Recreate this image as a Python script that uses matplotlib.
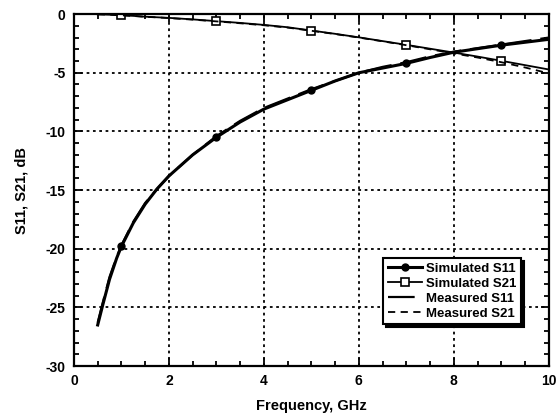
import matplotlib
matplotlib.use("Agg")
import matplotlib.pyplot as plt
from matplotlib.ticker import MultipleLocator

plt.rcParams["font.family"] = ["Liberation Sans", "DejaVu Sans"]
plt.rcParams["axes.unicode_minus"] = False

freq = [0.5, 0.6, 0.75, 0.9, 1, 1.25, 1.5, 1.75, 2, 2.5, 3, 3.5, 4, 4.5, 5, 5.5, 6, 6.5, 7,
        7.5, 8, 8.5, 9, 9.5, 10]
sim_s11 = [-26.5, -24.9, -22.6, -20.8, -19.8, -17.8, -16.2, -14.9, -13.8, -12.0, -10.5, -9.2,
           -8.1, -7.3, -6.5, -5.7, -5.0, -4.6, -4.2, -3.7, -3.25, -2.95, -2.65, -2.4, -2.15]
sim_s21 = [-0.02, -0.03, -0.05, -0.08, -0.1, -0.15, -0.22, -0.27, -0.32, -0.45, -0.6, -0.75,
           -0.92, -1.12, -1.4, -1.68, -1.98, -2.3, -2.62, -2.95, -3.28, -3.62, -3.98, -4.35,
           -4.72]
meas_s11 = [-26.3, -24.7, -22.4, -20.7, -19.7, -17.7, -16.1, -14.9, -13.8, -12.0, -10.4, -9.1,
            -8.0, -7.2, -6.4, -5.7, -5.0, -4.5, -4.1, -3.6, -3.2, -2.9, -2.6, -2.3, -2.0]
meas_s21 = [-0.02, -0.03, -0.05, -0.08, -0.1, -0.16, -0.23, -0.28, -0.34, -0.47, -0.62, -0.78,
            -0.95, -1.15, -1.42, -1.7, -2.0, -2.32, -2.65, -3.0, -3.35, -3.7, -4.1, -4.55,
            -5.05]
marker_idx = [4, 10, 14, 18, 22]

fig = plt.figure(figsize=(5.56, 4.15), dpi=100)
ax = fig.add_axes([0.133, 0.118, 0.854, 0.848])

ax.plot(freq, sim_s11, color="black", lw=2.2, marker="o", ms=5,
        mfc="black", markevery=marker_idx, label="Simulated S11")
ax.plot(freq, sim_s21, color="black", lw=1.3, marker="s", ms=6,
        mfc="white", mew=1.2, markevery=marker_idx, label="Simulated S21")
ax.plot(freq, meas_s11, color="black", lw=1.6, dashes=(12, 4), label="Measured S11")
ax.plot(freq, meas_s21, color="black", lw=1.3, dashes=(4, 3), label="Measured S21")

ax.set_xlim(0, 10)
ax.set_ylim(-30, 0)
ax.xaxis.set_major_locator(MultipleLocator(2))
ax.xaxis.set_minor_locator(MultipleLocator(0.5))
ax.yaxis.set_major_locator(MultipleLocator(5))
ax.yaxis.set_minor_locator(MultipleLocator(1))
ax.tick_params(which="both", direction="in", top=True, right=True, width=1.3)
ax.tick_params(which="major", length=6, labelsize=10, pad=6)
ax.tick_params(which="minor", length=3.5)
for lab in ax.get_xticklabels() + ax.get_yticklabels():
    lab.set_fontweight("bold")
for sp in ax.spines.values():
    sp.set_linewidth(1.6)

ax.grid(True, which="major", color="black", linestyle=(0, (1.5, 2)), linewidth=1.3)

ax.set_xlabel("Frequency, GHz", fontsize=10.5, fontweight="bold", labelpad=8)
ax.set_ylabel("S11, S21, dB", fontsize=10.5, fontweight="bold", labelpad=12)

leg = ax.legend(loc="lower right", bbox_to_anchor=(0.955, 0.1), fancybox=False,
                shadow={"color": "black", "alpha": 1}, framealpha=1,
                edgecolor="black", prop={"size": 9.5, "weight": "bold"},
                handlelength=2.6, handletextpad=0.3, labelspacing=0.2, borderpad=0.35)
leg.get_frame().set_linewidth(1.5)

fig.savefig("out.png", dpi=100)
